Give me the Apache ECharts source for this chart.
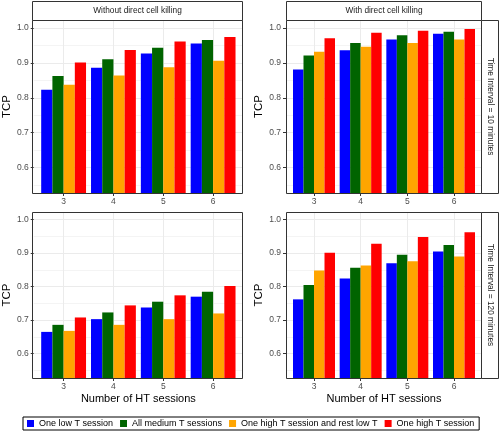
<!DOCTYPE html>
<html>
<head>
<meta charset="utf-8">
<script src="https://cdn.jsdelivr.net/npm/echarts@6/dist/echarts.min.js"></script>
<style>html,body{margin:0;padding:0;background:#fff;}#c{width:500px;height:437px;}</style>
</head>
<body>
<div id="c"></div>
<script>
// ---- data ----
const categories = [3, 4, 5, 6];
const seriesNames = ['One low T session', 'All medium T sessions', 'One high T session and rest low T', 'One high T session'];
const colStrips = ['Without direct cell killing', 'With direct cell killing'];
const rowStrips = ['Time Interval = 10 minutes', 'Time Interval = 120 minutes'];
const yTicks = [0.6, 0.7, 0.8, 0.9, 1.0];
const yMinorTicks = [0.55, 0.65, 0.75, 0.85, 0.95];
const yRange = [0.5275, 1.0225];
const xRange = [2.4, 6.6];

// Without direct cell killing, 10 min
const wo10_low = [0.823, 0.886, 0.927, 0.955];
const wo10_medium = [0.862, 0.910, 0.943, 0.965];
const wo10_highRestLow = [0.837, 0.864, 0.887, 0.906];
const wo10_high = [0.901, 0.937, 0.961, 0.974];
// With direct cell killing, 10 min
const w10_low = [0.881, 0.936, 0.967, 0.983];
const w10_medium = [0.921, 0.957, 0.979, 0.989];
const w10_highRestLow = [0.932, 0.946, 0.957, 0.967];
const w10_high = [0.970, 0.986, 0.992, 0.997];
// Without direct cell killing, 120 min
const wo120_low = [0.665, 0.703, 0.738, 0.770];
const wo120_medium = [0.686, 0.723, 0.755, 0.785];
const wo120_highRestLow = [0.668, 0.686, 0.703, 0.720];
const wo120_high = [0.708, 0.744, 0.774, 0.802];
// With direct cell killing, 120 min
const w120_low = [0.762, 0.824, 0.870, 0.905];
const w120_medium = [0.805, 0.856, 0.895, 0.924];
const w120_highRestLow = [0.848, 0.863, 0.876, 0.890];
const w120_high = [0.901, 0.928, 0.948, 0.962];

// ---- style / layout ----
const colors = ['#0000FF', '#006400', '#FFA500', '#FF0000'];
const FONT = 'Liberation Sans, Arial, sans-serif';
const panels = [
  {left: 32, top: 20, width: 211, height: 173, data: [wo10_low, wo10_medium, wo10_highRestLow, wo10_high], nameGap: 20, xName: ''},
  {left: 286, top: 20, width: 196, height: 173, data: [w10_low, w10_medium, w10_highRestLow, w10_high], nameGap: 14, xName: ''},
  {left: 32, top: 212, width: 211, height: 166, data: [wo120_low, wo120_medium, wo120_highRestLow, wo120_high], nameGap: 20, xName: 'Number of HT sessions'},
  {left: 286, top: 212, width: 196, height: 166, data: [w120_low, w120_medium, w120_highRestLow, w120_high], nameGap: 14, xName: 'Number of HT sessions'}
];

const grid = [], xAxis = [], yAxis = [], series = [], graphics = [];
panels.forEach((p, i) => {
  grid.push({left: p.left, top: p.top, width: p.width, height: p.height, show: true, backgroundColor: '#fff', borderWidth: 0});
  xAxis.push({
    type: 'value', gridIndex: i, min: xRange[0], max: xRange[1],
    name: p.xName, nameLocation: 'middle', nameGap: 15,
    nameTextStyle: {fontFamily: FONT, fontSize: 11, color: '#000'},
    axisLine: {show: false},
    axisTick: {show: true, length: 3, customValues: categories, lineStyle: {color: '#333'}},
    axisLabel: {customValues: categories, margin: 4, fontFamily: FONT, fontSize: 8.5, color: '#4d4d4d'},
    splitLine: {show: true, lineStyle: {color: '#ebebeb', width: 1}}
  });
  yAxis.push({
    type: 'value', gridIndex: i, min: yRange[0], max: yRange[1],
    name: 'TCP', nameLocation: 'middle', nameGap: p.nameGap,
    nameTextStyle: {fontFamily: FONT, fontSize: 11.5, color: '#000'},
    axisLine: {show: false},
    axisTick: {show: true, length: 3, customValues: yTicks, lineStyle: {color: '#333'}},
    axisLabel: {customValues: yTicks, margin: 5, fontFamily: FONT, fontSize: 8.5, color: '#4d4d4d', formatter: v => v.toFixed(1)},
    splitLine: {show: true, lineStyle: {color: '#ebebeb', width: 1}}
  });
  yAxis.push({
    type: 'value', gridIndex: i, min: yRange[0], max: yRange[1], position: 'right',
    axisLine: {show: false},
    axisTick: {show: false, customValues: yMinorTicks},
    axisLabel: {show: false, customValues: yMinorTicks},
    splitLine: {show: true, lineStyle: {color: '#f4f4f4', width: 1}}
  });
  p.data.forEach((arr, k) => {
    series.push({
      type: 'bar', name: seriesNames[k], xAxisIndex: i, yAxisIndex: 2 * i,
      barWidth: '22.5%', barGap: '0%',
      itemStyle: {color: colors[k]},
      data: categories.map((c, j) => [c, arr[j]])
    });
  });
  // panel border
  graphics.push({type: 'rect', z: 100, silent: true,
    shape: {x: p.left + 0.5, y: p.top + 0.5, width: p.width - 1, height: p.height},
    style: {fill: null, stroke: '#333', lineWidth: 1}});
});

// top strips
[0, 1].forEach(c => {
  const p = panels[c];
  graphics.push({type: 'rect', z: 100, silent: true,
    shape: {x: p.left + 0.5, y: 1.5, width: p.width - 1, height: p.top - 1},
    style: {fill: '#fff', stroke: '#333', lineWidth: 1}});
  graphics.push({type: 'text', z: 101, silent: true,
    x: p.left + p.width / 2, y: (1 + p.top) / 2 + 0.5,
    style: {text: colStrips[c], font: '8.3px ' + FONT, fill: '#1a1a1a', align: 'center', verticalAlign: 'middle'}});
});
// right strips
[1, 3].forEach((pi, r) => {
  const p = panels[pi];
  const sx = p.left + p.width - 0.5;
  graphics.push({type: 'rect', z: 100, silent: true,
    shape: {x: sx, y: p.top + 0.5, width: 17, height: p.height},
    style: {fill: '#fff', stroke: '#333', lineWidth: 1}});
  graphics.push({type: 'text', z: 101, silent: true,
    x: sx + 8.5, y: p.top + p.height / 2, rotation: -Math.PI / 2,
    style: {text: rowStrips[r], font: '8.3px ' + FONT, fill: '#1a1a1a', align: 'center', verticalAlign: 'middle'}});
});

const chart = echarts.init(document.getElementById('c'), null, {renderer: 'canvas'});
chart.setOption({
  animation: false,
  backgroundColor: '#fff',
  color: colors,
  grid, xAxis, yAxis, series,
  legend: {
    data: seriesNames, left: 23, top: 417,
    icon: 'rect', itemWidth: 7, itemHeight: 7, itemGap: 7,
    padding: [2, 5, 2, 4],
    borderColor: '#000', borderWidth: 1,
    textStyle: {fontFamily: FONT, fontSize: 9, color: '#000'}
  },
  graphic: graphics
});
</script>
</body>
</html>
